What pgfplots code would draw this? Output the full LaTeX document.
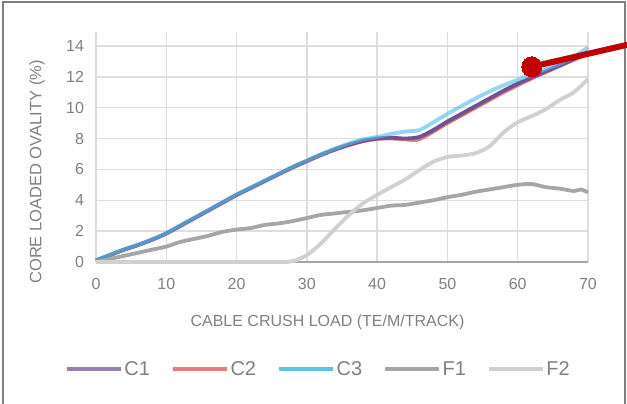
\documentclass[border=0pt]{standalone}
\usepackage{pgfplots}
\pgfplotsset{compat=1.18}
\usepackage{pgfplotstable}
\usepackage{fontspec}
\setmainfont{Liberation Sans}
\definecolor{cpurple}{HTML}{6E5294}
\definecolor{cpurplelg}{HTML}{9581AD}
\definecolor{cred}{HTML}{DE7B7B}
\definecolor{credlg}{HTML}{E17E7E}
\definecolor{cblue}{HTML}{4FBDE8}
\definecolor{cbluelg}{HTML}{5EC3EB}
\definecolor{fgrey}{HTML}{A6A6A6}
\definecolor{flight}{HTML}{D0D0D0}
\definecolor{txtgrey}{HTML}{808080}
\definecolor{gridgrey}{HTML}{DDDDDD}
\definecolor{annred}{HTML}{C00000}

\pgfplotstableread{
x y
0 0.1
2 0.45
4 0.8
6 1.1
8 1.45
10 1.85
12 2.35
14 2.85
16 3.35
18 3.85
20 4.35
22 4.8
24 5.25
26 5.7
28 6.15
30 6.55
32 6.95
34 7.3
36 7.6
38 7.85
40 8.0
42 8.05
44 8.0
46 8.1
48 8.55
50 9.1
52 9.6
54 10.1
56 10.6
58 11.1
60 11.55
62 11.95
64 12.35
66 12.75
68 13.15
70 13.6
}\cone

\pgfplotstableread{
x y
0 0.1
2 0.45
4 0.8
6 1.1
8 1.45
10 1.85
12 2.33
14 2.83
16 3.33
18 3.83
20 4.33
22 4.78
24 5.23
26 5.68
28 6.12
30 6.52
32 6.92
34 7.27
36 7.57
38 7.82
40 7.97
42 8.0
44 7.95
45 7.9
46 7.95
48 8.45
50 9.0
52 9.5
54 10.0
56 10.5
58 11.0
60 11.45
62 11.9
64 12.3
66 12.7
68 13.1
70 13.5
}\ctwo

\pgfplotstableread{
x y
0 0.12
2 0.47
4 0.82
6 1.12
8 1.47
10 1.87
12 2.37
14 2.87
16 3.37
18 3.87
20 4.37
22 4.82
24 5.27
26 5.72
28 6.17
30 6.58
32 6.98
34 7.35
36 7.68
38 7.95
40 8.1
42 8.3
44 8.45
46 8.55
48 9.05
50 9.6
52 10.1
54 10.6
56 11.05
58 11.45
60 11.8
62 12.15
64 12.5
66 12.85
68 13.3
70 13.9
}\cthree

\pgfplotstableread{
x y
0 0
2 0.2
4 0.4
6 0.6
8 0.8
10 1.0
12 1.3
14 1.5
16 1.7
18 1.95
20 2.1
22 2.2
24 2.4
26 2.5
28 2.65
30 2.85
32 3.05
34 3.15
36 3.25
38 3.35
40 3.5
42 3.65
44 3.7
46 3.85
48 4.0
50 4.2
52 4.35
54 4.55
56 4.7
58 4.85
60 5.0
62 5.05
64 4.85
66 4.75
68 4.6
69 4.7
70 4.5
}\fone

\pgfplotstableread{
x y
0 0
10 0
20 0
26 0
28 0.05
30 0.45
32 1.2
34 2.15
36 3.05
38 3.8
40 4.35
42 4.85
44 5.35
46 5.95
48 6.5
50 6.8
52 6.9
54 7.05
56 7.5
58 8.4
60 9.05
62 9.45
64 9.9
66 10.5
68 11.0
70 11.85
}\ftwo

\begin{document}
\begin{tikzpicture}
\clip (-96pt,-142pt) rectangle (531pt,262pt);
\draw[txtgrey, line width=2pt] (-93pt,-150pt) rectangle (529pt,260pt);
\begin{axis}[
    scale only axis,
    width=492pt,
    height=230pt,
    xmin=0, xmax=70,
    ymin=0, ymax=14.9,
    xtick={0,10,...,70},
    ytick={0,2,...,14},
    axis x line=bottom,
    axis y line=left,
    x axis line style={draw=fgrey, line width=1.5pt, -},
    y axis line style={draw=none},
    major tick length=0pt,
    grid=major,
    grid style={gridgrey, line width=1.5pt},
    tick label style={font=\fontsize{16}{18}\selectfont, text=txtgrey},
    yticklabel style={xshift=-8.5pt},
    xticklabel style={yshift=-13pt},
    /pgf/number format/assume math mode=true,
    clip=false,
    legend columns=5,
    legend style={at={(0.452,-0.465)}, anchor=center, draw=none, fill=none,
        font=\fontsize{20}{22}\selectfont, text=txtgrey,
        /tikz/every even column/.append style={column sep=20pt},
        nodes={inner sep=1.5pt}},
    legend image code/.code={\draw[#1] (0pt,0pt) -- (54pt,0pt);},
]
\addplot[cred, line width=3.8pt, smooth, tension=0.5, forget plot] table {\ctwo};
\addplot[cpurple, line width=3.8pt, smooth, tension=0.5, forget plot] table {\cone};
\addplot[cblue, line width=3.8pt, opacity=0.62, smooth, tension=0.5, forget plot] table {\cthree};
\addplot[fgrey, line width=3.8pt, smooth, tension=0.5, forget plot] table {\fone};
\addplot[flight, line width=3.8pt, smooth, tension=0.5, forget plot] table {\ftwo};
\addlegendimage{cpurplelg, line width=3.5pt}
\addlegendentry{C1}
\addlegendimage{credlg, line width=3.5pt}
\addlegendentry{C2}
\addlegendimage{cbluelg, line width=3.5pt}
\addlegendentry{C3}
\addlegendimage{fgrey, line width=3.5pt}
\addlegendentry{F1}
\addlegendimage{flight, line width=3.5pt}
\addlegendentry{F2}
\addplot[annred, line width=6pt, mark=*, mark indices={1}, mark size=10pt,
    mark options={fill=annred, draw=annred, line width=0pt}, forget plot]
    coordinates {(62,12.65) (77,14.22)};
\end{axis}
\node[rotate=90, text=txtgrey, font=\fontsize{16.5}{18}\selectfont] at (-59pt,90pt) {CORE LOADED OVALITY (\%)};
\node[text=txtgrey, font=\fontsize{16}{18}\selectfont] at (231.5pt,-60pt) {CABLE CRUSH LOAD (TE/M/TRACK)};
\end{tikzpicture}
\end{document}
